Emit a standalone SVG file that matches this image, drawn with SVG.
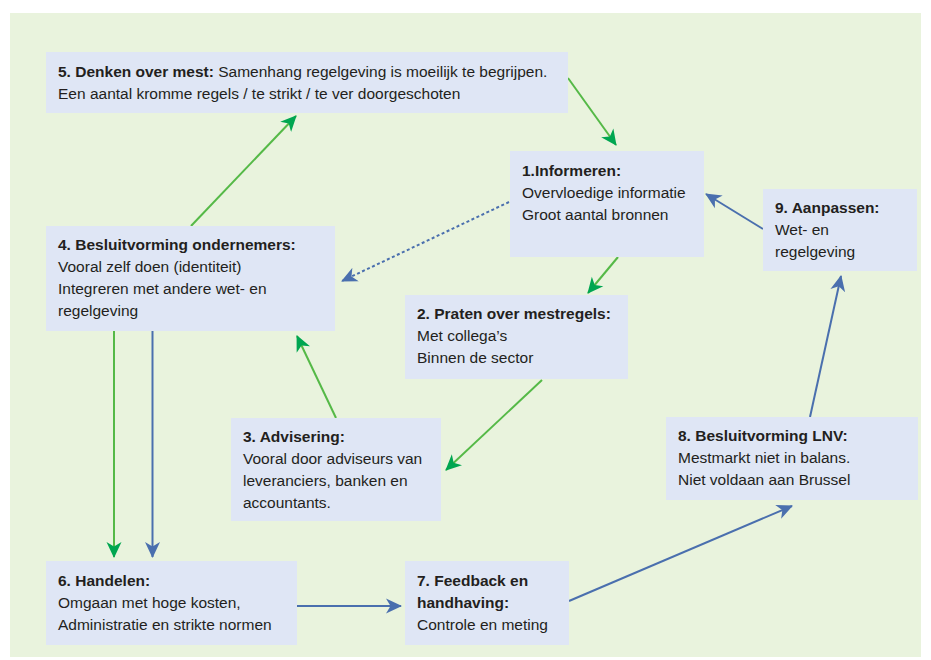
<svg xmlns="http://www.w3.org/2000/svg" width="931" height="660" viewBox="0 0 931 660">
<style>
.box{fill:#dfe6f5}
text{font-family:"Liberation Sans",Arial,sans-serif;font-size:15.5px;fill:#231f20}
.b{font-weight:bold}
.g{stroke:#55b947;stroke-width:2;fill:none;marker-end:url(#ag)}
.bl{stroke:#4a6fae;stroke-width:2;fill:none;marker-end:url(#ab)}
.dot{stroke-dasharray:3 2.5}
</style>
<defs>
<marker id="ag" markerUnits="userSpaceOnUse" markerWidth="16" markerHeight="16" viewBox="0 0 16 16" refX="15" refY="8" orient="auto">
<path d="M0,0.5 L16,8 L0,15.5 L4.5,8 Z" fill="#00a651"/>
</marker>
<marker id="ab" markerUnits="userSpaceOnUse" markerWidth="16" markerHeight="16" viewBox="0 0 16 16" refX="15" refY="8" orient="auto">
<path d="M0,0.5 L16,8 L0,15.5 L4.5,8 Z" fill="#4a6fae"/>
</marker>
</defs>
<rect x="0" y="0" width="931" height="660" fill="#ffffff"/>
<rect x="10" y="13" width="911" height="644" fill="#e9f3dd"/>

<g id="connectors">
<line class="g" x1="568" y1="78" x2="616" y2="145"/>
<line class="g" x1="191" y1="226" x2="296" y2="116"/>
<line class="g" x1="618" y1="257" x2="588" y2="293"/>
<line class="g" x1="542" y1="380" x2="446" y2="470"/>
<line class="g" x1="336" y1="418" x2="297" y2="336"/>
<line class="g" x1="114" y1="331" x2="114" y2="557"/>
<line class="bl" x1="152.5" y1="331" x2="152.5" y2="557"/>
<line class="bl dot" x1="509" y1="202" x2="342" y2="281"/>
<line class="bl" x1="763" y1="229" x2="706" y2="194"/>
<line class="bl" x1="810" y1="417" x2="841" y2="276"/>
<line class="bl" x1="569" y1="601" x2="792" y2="506"/>
<line class="bl" x1="297" y1="606" x2="401" y2="606"/>
</g>

<g id="node5">
<rect class="box" x="46" y="52" width="522" height="61"/>
<text x="58" y="77"><tspan class="b">5. Denken over mest:</tspan> Samenhang regelgeving is moeilijk te begrijpen.</text>
<text x="58" y="99">Een aantal kromme regels / te strikt / te ver doorgeschoten</text>
</g>

<g id="node1">
<rect class="box" x="510" y="151" width="194" height="106"/>
<text x="522" y="176" class="b">1.Informeren:</text>
<text x="522" y="198">Overvloedige informatie</text>
<text x="522" y="220">Groot aantal bronnen</text>
</g>

<g id="node9">
<rect class="box" x="763" y="189" width="154" height="82"/>
<text x="775" y="213" class="b">9. Aanpassen:</text>
<text x="775" y="235">Wet- en</text>
<text x="775" y="257">regelgeving</text>
</g>

<g id="node4">
<rect class="box" x="46" y="226" width="289" height="105"/>
<text x="58" y="250" class="b">4. Besluitvorming ondernemers:</text>
<text x="58" y="272">Vooral zelf doen (identiteit)</text>
<text x="58" y="294">Integreren met andere wet- en</text>
<text x="58" y="316">regelgeving</text>
</g>

<g id="node2">
<rect class="box" x="405" y="295" width="223" height="84"/>
<text x="417" y="319" class="b">2. Praten over mestregels:</text>
<text x="417" y="341">Met collega’s</text>
<text x="417" y="363">Binnen de sector</text>
</g>

<g id="node3">
<rect class="box" x="231" y="418" width="210" height="103"/>
<text x="243" y="442" class="b">3. Advisering:</text>
<text x="243" y="464">Vooral door adviseurs van</text>
<text x="243" y="486">leveranciers, banken en</text>
<text x="243" y="508">accountants.</text>
</g>

<g id="node8">
<rect class="box" x="666" y="417" width="252" height="83"/>
<text x="678" y="441" class="b">8. Besluitvorming LNV:</text>
<text x="678" y="463">Mestmarkt niet in balans.</text>
<text x="678" y="485">Niet voldaan aan Brussel</text>
</g>

<g id="node6">
<rect class="box" x="46" y="561" width="251" height="84"/>
<text x="58" y="586" class="b">6. Handelen:</text>
<text x="58" y="608">Omgaan met hoge kosten,</text>
<text x="58" y="630">Administratie en strikte normen</text>
</g>

<g id="node7">
<rect class="box" x="405" y="561" width="164" height="84"/>
<text x="417" y="586" class="b">7. Feedback en</text>
<text x="417" y="608" class="b">handhaving:</text>
<text x="417" y="630">Controle en meting</text>
</g>
</svg>
